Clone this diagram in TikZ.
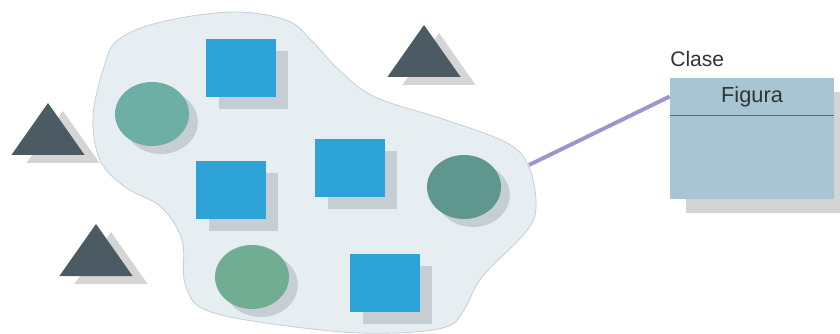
\documentclass[tikz,border=0pt]{standalone}
\usepackage{fontspec}
\setmainfont{Liberation Sans}
\usetikzlibrary{shapes.geometric,shadows}
\definecolor{blobfill}{HTML}{E6EEF2}
\definecolor{blobline}{HTML}{C9CFD7}
\definecolor{squareblue}{HTML}{2EA3D8}
\definecolor{objshadow}{HTML}{C6CED3}
\definecolor{tealA}{HTML}{6DAEA5}
\definecolor{tealB}{HTML}{5F978F}
\definecolor{tealC}{HTML}{70AD92}
\definecolor{trigray}{HTML}{4C5A63}
\definecolor{trishadow}{HTML}{D5D5D5}
\definecolor{classfill}{HTML}{A8C5D4}
\definecolor{classline}{HTML}{5C6770}
\definecolor{classshadow}{HTML}{D4D4D4}
\definecolor{linkcolor}{HTML}{9B97CD}
\tikzset{
  style blob/.style={
    fill=blobfill, draw=blobline, line width=0.6pt
  },
  style square/.style={
    rectangle, fill=squareblue, inner sep=0pt,
    minimum width=1.725cm, minimum height=1.425cm,
    drop shadow={shadow xshift=0.31cm, shadow yshift=-0.3cm, fill=objshadow, opacity=1}
  },
  style oval/.style={
    ellipse, fill=#1, inner sep=0pt,
    minimum width=1.85cm, minimum height=1.6cm,
    drop shadow={shadow xshift=0.22cm, shadow yshift=-0.2cm, fill=objshadow, opacity=1}
  },
  style tri/.style={fill=trigray},
  style trishadow/.style={fill=trishadow},
  style class/.style={
    rectangle, fill=classfill, inner sep=0pt,
    minimum width=4.1cm, minimum height=3.025cm,
    drop shadow={shadow xshift=0.4cm, shadow yshift=-0.35cm, fill=classshadow, opacity=1}
  },
  style header/.style={
    rectangle, inner sep=0pt, text=black!80,
    minimum width=4.1cm, minimum height=0.925cm,
    font=\fontsize{15.5}{18}\selectfont
  },
  style link/.style={draw=linkcolor, line width=2.8pt}
}

\begin{document}
\begin{tikzpicture}[x=0.025cm, y=-0.025cm]
    \useasboundingbox (0,0) rectangle (840,334);

    % the set
    \path[style blob] plot[smooth cycle, tension=0.6] coordinates {
        (118,40) (161,22) (232,12) (286,20) (311,40) (339,70) (375,97)
        (446,120) (507,143) (529,167) (536,207) (525,233) (482,277)
        (464,310) (446,327) (393,333) (321,330) (214,313) (186,287)
        (182,240) (161,207) (125,187) (100,160) (93,117) (104,67)};
    \coordinate (S) at (529,165);

    % triangles outside the set
    \foreach \x/\y in {424/25, 48/103, 96/224} {
        \fill[style trishadow] (\x+15,\y+8) -- ++(-36.6,52) -- ++(73.2,0) -- cycle;
        \fill[style tri] (\x,\y) -- ++(-36.6,52) -- ++(73.2,0) -- cycle;
    }

    % objects in the set
    \node[style square] (A) at (241,68) {};
    \node[style square] (B) at (231,190) {};
    \node[style square] (C) at (350,168) {};
    \node[style square] (D) at (385,283) {};
    \node[style oval=tealA] (E) at (152,114) {};
    \node[style oval=tealB] (F) at (464,187) {};
    \node[style oval=tealC] (G) at (252,277) {};

    % class
    \node[style class] (K) at (752,138.5) {};
    \node[style header, anchor=north] (H) at (K.north) {Figura};
    \draw[classline, line width=1pt] (H.south west) -- (H.south east);
    \node[anchor=base west, inner sep=0pt, text=black!80,
          font=\fontsize{15}{18}\selectfont] (L) at (670,67) {Clase};

    \path[style link] (S) -- (H.west);
\end{tikzpicture}
\end{document}
